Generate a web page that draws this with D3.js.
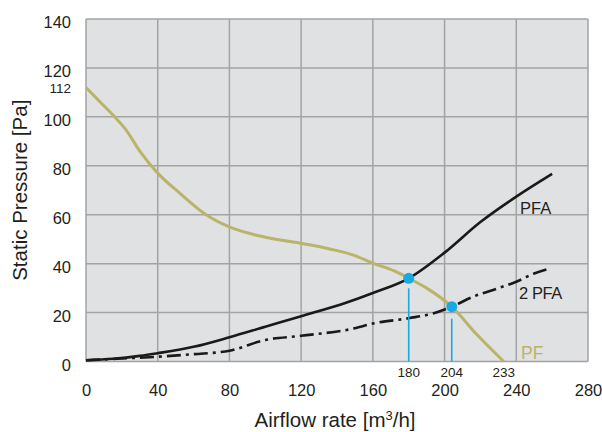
<!DOCTYPE html>
<html>
<head>
<meta charset="utf-8">
<script src="https://cdn.jsdelivr.net/npm/d3@7"></script>
<style>
  html, body { margin: 0; padding: 0; background: #fff; }
  svg { display: block; font-family: "Liberation Sans", Arial, sans-serif; }
</style>
</head>
<body>
<svg id="chart" width="602" height="432"></svg>
<script>
// Fan curve PF and system curves PFA / 2 PFA (airflow m3/h vs static pressure Pa)
const xTicks = [0, 40, 80, 120, 160, 200, 240, 280];
const yTicks = [0, 20, 40, 60, 80, 100, 120, 140];

const pfX = [0, 8, 16, 22, 30, 40, 52, 67, 80, 100, 120, 136, 150, 160, 172, 180, 190, 204, 218, 233];
const pfY = [112, 106, 100, 95, 86, 77, 69, 60, 55, 50.8, 48.3, 46, 43.3, 40.2, 37, 34, 30, 22.4, 11, 0];

const pfaX = [0, 15, 30, 40, 60, 80, 100, 120, 145, 160, 180, 200, 220, 240, 260];
const pfaY = [0.5, 1.1, 2.3, 3.4, 6, 9.9, 14.2, 18.5, 24, 28, 34, 44.5, 57, 67.4, 76.7];

const pfa2X = [0, 20, 41, 60, 80, 100, 120, 150, 160, 180, 194, 204, 216, 230, 240, 250, 259];
const pfa2Y = [0.5, 1.2, 2, 3, 4.4, 8.8, 10.5, 13.6, 15.5, 17.7, 19.7, 22.4, 26.5, 30, 32.6, 36, 38.1];

// Operating points (PF crossing each system curve)
const opX = [180, 204];
const opY = [34, 22.4];
// Extra value labels along the axes
const xMarks = [180, 204, 233];
const yMarks = [112];

const seriesNames = ["PFA", "2 PFA", "PF"];

const svg = d3.select("#chart");
const plotL = 86, plotR = 588, plotT = 19, plotB = 361.5;
const x = d3.scaleLinear().domain([0, 280]).range([plotL, plotR]);
const y = d3.scaleLinear().domain([0, 140]).range([plotB, plotT]);

const gridColor = "#a3a3a3";
const textColor = "#231f20";
const pfColor = "#b9b46a";
const blue = "#1ba9e1";

// Plot background
svg.append("rect")
  .attr("x", plotL).attr("y", plotT)
  .attr("width", plotR - plotL).attr("height", plotB - plotT)
  .attr("fill", "#e0e1e3");

// Grid
const grid = svg.append("g");
grid.selectAll(".gx").data(xTicks).join("line")
  .attr("x1", d => x(d)).attr("x2", d => x(d))
  .attr("y1", plotT).attr("y2", plotB)
  .attr("stroke", gridColor).attr("stroke-width", 1.5);
grid.selectAll(".gy").data(yTicks).join("line")
  .attr("x1", plotL).attr("x2", plotR)
  .attr("y1", d => y(d)).attr("y2", d => y(d))
  .attr("stroke", gridColor).attr("stroke-width", 1.5);

// Axes (labels only)
const xAxis = d3.axisBottom(x).tickValues(xTicks).tickSize(0).tickPadding(0);
const gx = svg.append("g").attr("transform", `translate(0,${plotB})`).call(xAxis);
gx.select(".domain").remove();
gx.selectAll("text")
  .attr("y", 34).attr("dy", 0)
  .attr("font-size", 16.5).attr("fill", textColor)
  .attr("font-family", "Liberation Sans, Arial, sans-serif");

const yAxis = d3.axisLeft(y).tickValues(yTicks).tickSize(0).tickPadding(0);
const gy = svg.append("g").attr("transform", `translate(${plotL},0)`).call(yAxis);
gy.select(".domain").remove();
gy.selectAll("text")
  .attr("x", -15).attr("dy", 8.7)
  .attr("font-size", 16.5).attr("fill", textColor)
  .attr("font-family", "Liberation Sans, Arial, sans-serif");

// Curves
const line = (xs, ys, curve) => d3.line()
  .x((d, i) => x(xs[i])).y((d, i) => y(ys[i]))
  .curve(curve)(xs);

svg.append("path")
  .attr("d", line(pfX, pfY, d3.curveMonotoneX))
  .attr("fill", "none").attr("stroke", pfColor).attr("stroke-width", 3);

svg.append("path")
  .attr("d", line(pfaX, pfaY, d3.curveMonotoneX))
  .attr("fill", "none").attr("stroke", "#1a1a1a").attr("stroke-width", 2.6);

svg.append("path")
  .attr("d", line(pfa2X, pfa2Y, d3.curveMonotoneX))
  .attr("fill", "none").attr("stroke", "#1a1a1a").attr("stroke-width", 2.6)
  .attr("stroke-dasharray", "14,5,3,5");

// Operating point drop lines and markers
const gap = [10, 12];
svg.selectAll(".drop").data(opX).join("line")
  .attr("x1", d => x(d)).attr("x2", d => x(d))
  .attr("y1", (d, i) => y(opY[i]) + gap[i]).attr("y2", plotB)
  .attr("stroke", blue).attr("stroke-width", 1.6);
svg.selectAll(".op").data(opX).join("circle")
  .attr("cx", d => x(d)).attr("cy", (d, i) => y(opY[i]))
  .attr("r", 5.5).attr("fill", blue);

// Axis value labels
svg.selectAll(".xm").data(xMarks).join("text")
  .attr("x", d => x(d)).attr("y", 377)
  .attr("text-anchor", "middle").attr("font-size", 13.5).attr("fill", textColor)
  .text(d => d);
svg.selectAll(".ym").data(yMarks).join("text")
  .attr("x", 71).attr("y", d => y(d) + 5.5)
  .attr("text-anchor", "end").attr("font-size", 13.5).attr("fill", textColor)
  .text(d => d);

// Series labels
svg.append("text").attr("x", 520).attr("y", 214)
  .attr("font-size", 16.5).attr("fill", textColor).text(seriesNames[0]);
svg.append("text").attr("x", 519).attr("y", 299)
  .attr("font-size", 16.5).attr("fill", textColor).attr("letter-spacing", -0.4).text(seriesNames[1]);
svg.append("text").attr("x", 521).attr("y", 359)
  .attr("font-size", 17.5).attr("fill", pfColor).text(seriesNames[2]);

// Axis titles
const xt = svg.append("text")
  .attr("x", x(140) - 2).attr("y", 427)
  .attr("text-anchor", "middle").attr("font-size", 20.5).attr("fill", textColor);
xt.append("tspan").text("Airflow rate [m");
xt.append("tspan").attr("font-size", 13).attr("dy", -7).text("3");
xt.append("tspan").attr("dy", 7).text("/h]");

svg.append("text")
  .attr("transform", `translate(27,${y(70)}) rotate(-90)`)
  .attr("text-anchor", "middle").attr("font-size", 20.5).attr("fill", textColor)
  .text("Static Pressure [Pa]");
</script>
</body>
</html>
